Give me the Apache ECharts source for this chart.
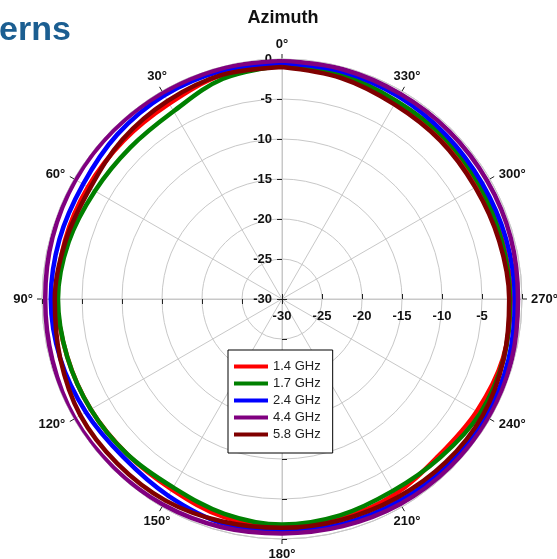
<!DOCTYPE html>
<html>
<head>
<meta charset="utf-8">
<script src="https://cdn.jsdelivr.net/npm/echarts@6/dist/echarts.min.js"></script>
<style>
html,body{margin:0;padding:0;background:#fff;}
#chart{width:557px;height:559px;}
</style>
</head>
<body>
<div id="chart"></div>
<script>
// Azimuth angles (degrees, counter-clockwise from the top)
const angles = [0,15,30,45,60,75,90,105,120,135,150,165,180,195,210,225,240,255,270,285,300,315,330,345];

// Normalised gain (dB) per frequency at each azimuth angle
const gain14 = [-0.7,-1.0,-1.8,-2.0,-2.0,-1.9,-1.9,-2.2,-2.4,-2.6,-2.5,-1.8,-1.5,-1.6,-1.8,-2.3,-1.9,-1.4,-1.4,-1.5,-1.6,-1.6,-1.5,-1.0];
const gain17 = [-0.8,-1.5,-2.9,-3.2,-3.0,-2.4,-2.0,-2.2,-2.4,-2.6,-2.8,-2.2,-1.8,-2.0,-2.3,-2.0,-1.4,-1.3,-1.5,-1.6,-1.5,-1.4,-1.4,-1.0];
const gain24 = [-0.5,-0.5,-0.6,-0.9,-1.3,-1.2,-1.1,-1.3,-1.7,-2.0,-1.6,-1.0,-1.0,-0.9,-0.8,-0.7,-0.6,-0.7,-0.9,-1.0,-1.1,-1.0,-0.8,-0.6];
const gain44 = [-0.2,-0.2,-0.2,-0.2,-0.2,-0.3,-0.4,-0.3,-0.1,-0.2,-0.3,-0.5,-0.7,-0.6,-0.4,-0.3,-0.2,-0.3,-0.5,-0.4,-0.4,-0.4,-0.4,-0.3];
const gain58 = [-1.0,-1.0,-1.4,-1.8,-2.3,-2.0,-1.6,-1.3,-0.9,-0.9,-0.9,-1.2,-1.4,-1.4,-1.3,-1.1,-1.0,-1.3,-1.6,-1.9,-2.1,-2.0,-1.9,-1.4];

const freqNames = ['1.4 GHz','1.7 GHz','2.4 GHz','4.4 GHz','5.8 GHz'];
const freqColors = ['#ff0000','#008000','#0000ff','#800080','#800000'];
const gains = [gain14, gain17, gain24, gain44, gain58];

// Radial scale (dB) and angular tick labels
const radiusMin = -30;
const radiusMax = 0;
const radiusStep = 5;
const angleTicks = [0,30,60,90,120,150,180,210,240,270,300,330];

const CX = 282, CY = 299, R = 240;
const FONT = '"Liberation Sans", Arial, sans-serif';
const gridColor = '#c8c8c8';
const tickColor = '#222';
const labelColor = '#111';

function closedLoop(values) {
  const pts = angles.map((a, i) => [values[i], a]);
  pts.push([values[0], 360]);
  return pts;
}

// Angle labels: a label sits beside its tick, pushed outward along the dominant
// direction of its spoke and nudged slightly along the other one.
// The axis anchors each label box by a corner, so each label gets a box whose
// size brings its text to that spot.
const ANGLE_MARGIN = -24;
const LABEL_GAP = 8;
const LABEL_NUDGE = 9;
const LABEL_FONT_SIZE = 13;
const LABEL_HEIGHT = 12;
const measureCtx = document.createElement('canvas').getContext('2d');
measureCtx.font = 'bold ' + LABEL_FONT_SIZE + 'px ' + FONT;
const angleRich = {};
angleTicks.forEach(a => {
  const t = a * Math.PI / 180;
  const ux = -Math.sin(t), uy = -Math.cos(t);
  const text = a + '°';
  const w = measureCtx.measureText(text).width;
  const tx = CX + (R + 1) * ux, ty = CY + (R + 1) * uy;
  let qx, qy;
  if (Math.abs(ux) > Math.abs(uy) + 1e-9) {
    qx = tx + Math.sign(ux) * (w / 2 + LABEL_GAP);
    qy = ty + uy * LABEL_NUDGE;
  } else {
    qy = ty + Math.sign(uy) * (LABEL_HEIGHT / 2 + LABEL_GAP);
    qx = tx + ux * LABEL_NUDGE;
  }
  const px = CX + (R + ANGLE_MARGIN) * ux, py = CY + (R + ANGLE_MARGIN) * uy;
  const sideH = Math.abs(px - CX) / R >= 0.3;
  const sideV = Math.abs(py - CY) / R >= 0.3;
  const st = {
    fontFamily: FONT, fontSize: LABEL_FONT_SIZE, fontWeight: 'bold', color: labelColor, align: 'center'
  };
  if (sideH) st.width = Math.max(2 * Math.abs(qx - px), w + 1);
  st.lineHeight = sideV ? Math.max(2 * Math.abs(qy - py), 14) : 14;
  angleRich['a' + a] = st;
});

// One extra polar per half-axis so that the radial scale carries ticks in all four directions
const axisStarts = [90, 0, 180, 270];
const polar = axisStarts.map(() => ({ center: [CX, CY], radius: [0, R] }));

const angleAxis = axisStarts.map((start, idx) => {
  if (idx === 0) {
    return {
      polarIndex: 0,
      type: 'value',
      min: 0,
      max: 360,
      interval: 30,
      startAngle: start,
      clockwise: false,
      axisLine: { show: true, lineStyle: { color: gridColor, width: 1 } },
      axisTick: { show: true, length: 5, lineStyle: { color: tickColor, width: 1 } },
      axisLabel: {
        margin: ANGLE_MARGIN,
        fontFamily: FONT,
        fontSize: LABEL_FONT_SIZE,
        fontWeight: 'bold',
        color: labelColor,
        formatter: v => (angleTicks.indexOf(v) < 0 ? '' : '{a' + v + '|' + v + '°}'),
        rich: angleRich
      },
      splitLine: { show: true, lineStyle: { color: gridColor, width: 1 } }
    };
  }
  return {
    polarIndex: idx, type: 'value', min: 0, max: 360, startAngle: start, clockwise: false, show: false
  };
});

const radiusAxis = axisStarts.map((start, idx) => {
  const base = {
    polarIndex: idx,
    type: 'value',
    min: radiusMin,
    max: radiusMax,
    interval: radiusStep,
    axisLine: { show: true, lineStyle: { color: gridColor, width: 1 } },
    axisTick: { show: true, length: 5, lineStyle: { color: tickColor, width: 1 } },
    splitLine: { show: false },
    axisLabel: { show: false }
  };
  if (idx === 0) {
    base.splitLine = { show: true, lineStyle: { color: gridColor, width: 1 } };
    base.axisLabel = { show: true, margin: 10, fontFamily: FONT, fontSize: 13, fontWeight: 'bold', color: labelColor };
  } else if (idx === 1) {
    base.axisTick.inside = true;
    base.axisLabel = {
      show: true, margin: -24, fontFamily: FONT, fontSize: 13, fontWeight: 'bold', color: labelColor,
      formatter: v => (v === radiusMax ? '' : String(v))
    };
  } else if (idx === 2) {
    base.axisTick.inside = true;
  }
  return base;
});

const series = gains.map((g, i) => ({
  name: freqNames[i],
  type: 'line',
  coordinateSystem: 'polar',
  polarIndex: 0,
  color: freqColors[i],
  showSymbol: false,
  symbol: 'none',
  smooth: 0.35,
  lineStyle: { width: 4.5, color: freqColors[i] },
  data: closedLoop(g),
  animation: false,
  z: 3 + i
}));

const chart = echarts.init(document.getElementById('chart'), null, { renderer: 'canvas' });
chart.setOption({
  animation: false,
  backgroundColor: '#fff',
  polar,
  angleAxis,
  radiusAxis,
  legend: {
    data: freqNames,
    orient: 'vertical',
    left: 228,
    top: 350,
    backgroundColor: '#fff',
    borderColor: '#000',
    borderWidth: 1,
    borderRadius: 0,
    padding: [10, 12, 12, 6],
    itemWidth: 34,
    itemHeight: 4,
    itemGap: 4,
    icon: 'rect',
    selectedMode: false,
    textStyle: { fontFamily: FONT, fontSize: 13, color: '#222' }
  },
  graphic: [
    {
      type: 'text', x: 283, y: 18, z: 10,
      style: { text: 'Azimuth', font: 'bold 18px ' + FONT, fill: labelColor, align: 'center', verticalAlign: 'middle' }
    },
    {
      type: 'text', x: -1, y: 31, z: 10,
      style: { text: 'erns', font: 'bold 34px ' + FONT, fill: '#1b5e91', align: 'left', verticalAlign: 'middle' }
    }
  ],
  series
});
</script>
</body>
</html>
